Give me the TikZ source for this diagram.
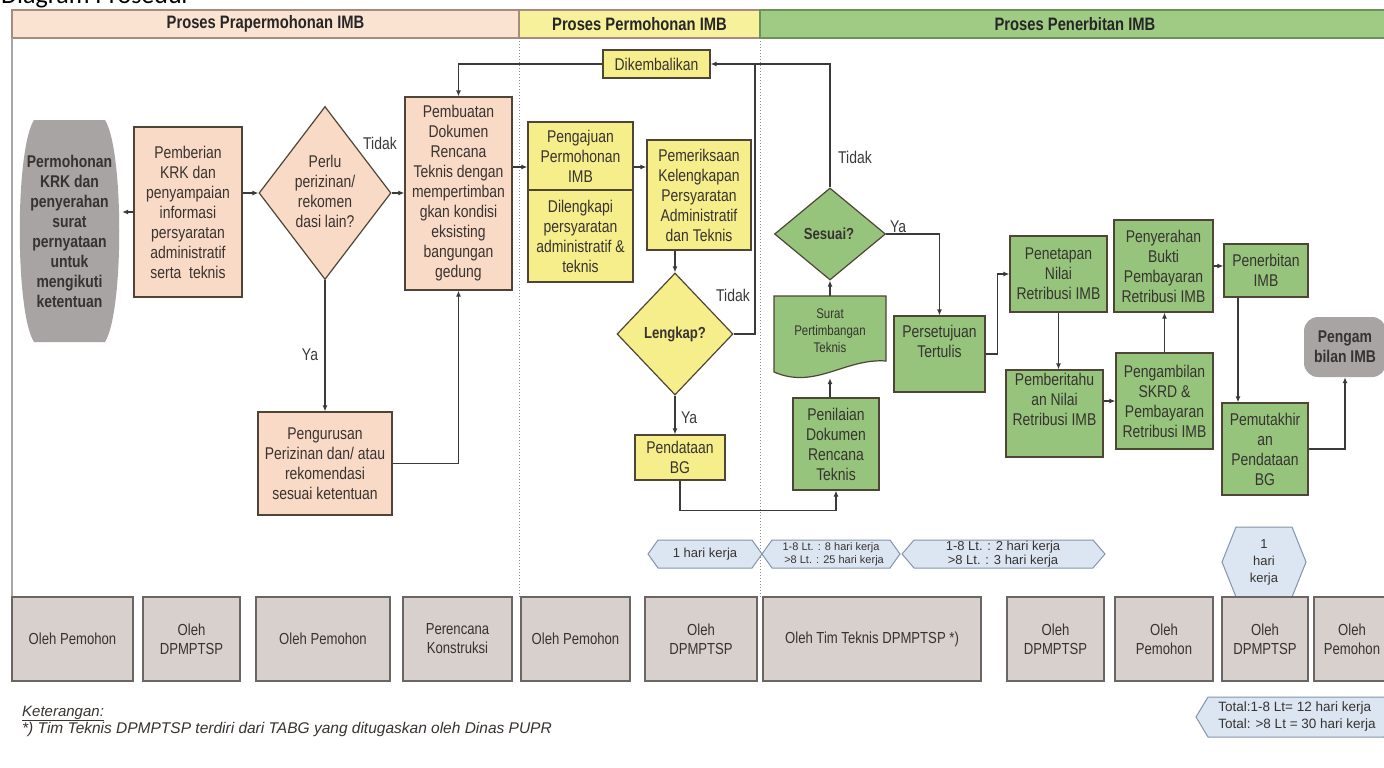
\documentclass[tikz,border=0pt]{standalone}
\usepackage{fontspec}
\setmainfont{Liberation Sans}[FakeStretch=0.82]
\newfontfamily\plainfont{Liberation Sans}
\newfontfamily\calib{Carlito}
\usetikzlibrary{shapes.geometric,arrows.meta,calc}
\definecolor{peachc}{HTML}{F9DAC6}
\definecolor{hpc}{HTML}{FBE3D2}
\definecolor{hpb}{HTML}{A58C7E}
\definecolor{yelc}{HTML}{F6EE8A}
\definecolor{hyc}{HTML}{F7F19C}
\definecolor{grnc}{HTML}{96C47C}
\definecolor{hgc}{HTML}{A0CB85}
\definecolor{hgb}{HTML}{6F9158}
\definecolor{termc}{HTML}{A9A4A4}
\definecolor{whoc}{HTML}{D8D0CD}
\definecolor{whob}{HTML}{6B6563}
\definecolor{hexc}{HTML}{DCE6F2}
\definecolor{hexb}{HTML}{8496A8}
\definecolor{bordc}{HTML}{4E4536}
\definecolor{linec}{HTML}{3A3A3A}
\definecolor{txtc}{HTML}{383330}
\newcommand{\fsz}[2]{\fontsize{#1}{#2}\selectfont}
\newcommand{\hexshape}[5]{\filldraw[hx] (#1,{(#3+#4)/2}) -- ({#1+#5},#3) -- ({#2-#5},#3) -- (#2,{(#3+#4)/2}) -- ({#2-#5},#4) -- ({#1+#5},#4) -- cycle;}
\tikzset{
 ln/.style={draw=linec, line width=1.4pt},
 ar/.style={ln, -{Latex[length=6pt,width=5pt]}},
 bx/.style={draw=bordc, line width=1.2pt, align=center, inner sep=0pt, text=txtc, font=\fsz{17}{20}},
 pch/.style={bx, fill=peachc},
 ylw/.style={bx, fill=yelc},
 grn/.style={bx, fill=grnc},
 dia/.style={diamond, draw=bordc, line width=1.2pt, inner sep=0pt},
 txt/.style={align=center, inner sep=0pt, text=txtc, font=\fsz{17}{20}},
 lab/.style={inner sep=0pt, text=linec, font=\fsz{17}{20}},
 who/.style={draw=whob, fill=whoc, line width=1.2pt, align=center, inner sep=0pt, text=txtc, font=\fsz{16}{19}},
 hx/.style={draw=hexb, fill=hexc, line width=1pt},
 hdr/.style={inner sep=0pt, line width=1.2pt, font=\bfseries\fsz{18}{20}, text=black!85},
}
\begin{document}
\begin{tikzpicture}[x=1pt,y=-1pt]
\useasboundingbox (0,0) rectangle (1384,768);
\fill[white] (0,0) rectangle (1384,768);
% title fragment
\node[anchor=base west, inner sep=0pt, font=\calib\fsz{26}{28}] (ttl) at (1,4) {Diagram Prosedur};
% headers
\node[hdr, draw=hpb, fill=hpc, minimum width=507pt, minimum height=28pt] (h1) at (265.5,24) {Proses Prapermohonan IMB};
\node[hdr, draw=hpb, fill=hyc, minimum width=241pt, minimum height=28pt] (h2) at (639.5,24) {Proses Permohonan IMB};
\node[hdr, draw=hgb, fill=hgc, minimum width=628pt, minimum height=28pt] (h3) at (1074,24) {};
\node[hdr] (h3t) at (1075,24) {Proses Penerbitan IMB};
% separators
\draw[black!35, line width=1.5pt] (12,38) -- (12,597);
\draw[black!45, dotted, line width=1pt] (519,38) -- (519,597);
\draw[black!45, dotted, line width=1pt] (760,38) -- (760,597);

% terminal start
\fill[termc] (34,120) -- (105,120) .. controls (124,150) and (124,312) .. (105,342) -- (34,342) .. controls (15,312) and (15,150) .. (34,120) -- cycle;
\node[txt, font=\bfseries\fsz{17}{20}, minimum width=105pt, minimum height=222pt] (term) at (69.5,231) {Permohonan\\KRK dan\\penyerahan\\surat\\pernyataan\\untuk\\mengikuti\\ketentuan};

\node[pch, minimum width=108pt, minimum height=170pt] (pemb) at (188,212) {Pemberian\\KRK dan\\penyampaian\\informasi\\persyaratan\\administratif\\serta\ \ teknis};
\node[dia, fill=peachc, minimum width=132pt, minimum height=173pt] (dia1) at (325,193) {};
\node[txt] (dia1t) at (325,191) {Perlu\\perizinan/\\rekomen\\dasi lain?};
\node[pch, minimum width=107pt, minimum height=193pt] (pbuat) at (458.5,193.5) {Pembuatan\\Dokumen\\Rencana\\Teknis dengan\\mempertimban\\gkan kondisi\\eksisting\\bangungan\\gedung};
\node[pch, minimum width=134pt, minimum height=103pt] (peng) at (325,463.5) {Pengurusan\\Perizinan dan/ atau\\rekomendasi\\sesuai ketentuan};

% permohonan
\node[ylw, minimum width=107pt, minimum height=28pt] (dikem) at (656.5,64) {Dikembalikan};
\node[ylw, minimum width=105pt, minimum height=160pt] (pgj) at (580.5,202) {};
\coordinate (dv) at (0,190);
\draw[bordc, line width=1.2pt] (pgj.west |- dv) -- (pgj.east |- dv);
\node[txt] (pgja) at (580.5,156) {Pengajuan\\Permohonan\\IMB};
\node[txt] (pgjb) at (580.5,236) {Dilengkapi\\persyaratan\\administratif \&\\teknis};
\node[ylw, minimum width=104pt, minimum height=110pt] (pemer) at (699,195) {Pemeriksaan\\Kelengkapan\\Persyaratan\\Administratif\\dan Teknis};
\node[dia, fill=yelc, minimum width=116pt, minimum height=122pt] (dia2) at (675,334) {};
\node[txt, font=\bfseries\fsz{16}{19}] (dia2t) at (675,334) {Lengkap?};
\node[ylw, minimum width=90pt, minimum height=45pt] (pbg) at (680,457.5) {Pendataan\\BG};

% penerbitan
\node[grn, minimum width=86pt, minimum height=92pt] (penil) at (836,444) {Penilaian\\Dokumen\\Rencana\\Teknis};
\filldraw[fill=grnc, draw=bordc, line width=1.2pt] (774,296) -- (886,296) -- (886,361) .. controls (845,358) and (815,390) .. (774,372) -- cycle;
\node[minimum width=112pt, minimum height=82pt, inner sep=0pt] (surat) at (830,337) {};
\node[txt, font=\fsz{14}{17}] (surtx) at (830,331) {Surat\\Pertimbangan\\Teknis};
\node[dia, fill=grnc, minimum width=111pt, minimum height=92pt] (dia3) at (830,234) {};
\node[txt, font=\bfseries\fsz{16}{19}] (dia3t) at (829,234) {Sesuai?};
\node[grn, minimum width=91pt, minimum height=76pt] (pers) at (939.5,354) {};
\node[txt] (perst) at (939.5,341) {Persetujuan\\Tertulis};
\node[grn, minimum width=97pt, minimum height=76pt] (penet) at (1058.5,274) {Penetapan\\Nilai\\Retribusi IMB};
\node[grn, minimum width=97pt, minimum height=87pt] (pembt) at (1054.5,413.5) {Pemberitahu\\an Nilai\\Retribusi IMB\\[8pt]};
\node[grn, minimum width=97pt, minimum height=96pt] (pengam) at (1164.5,401) {Pengambilan\\SKRD \&\\Pembayaran\\Retribusi IMB};
\node[grn, minimum width=99pt, minimum height=92pt] (penye) at (1163.5,266) {Penyerahan\\Bukti\\Pembayaran\\Retribusi IMB};
\node[grn, minimum width=84pt, minimum height=53pt] (pener) at (1266,270.5) {Penerbitan\\IMB};
\node[grn, minimum width=86pt, minimum height=92pt] (pemut) at (1265,449) {Pemutakhir\\an\\Pendataan\\BG};
\node[fill=termc, rounded corners=14pt, minimum width=82pt, minimum height=60pt, inner sep=0pt, align=center, text=txtc, font=\bfseries\fsz{17}{20}] (pimb) at (1345,347) {Pengam\\bilan IMB};

% connectors
\draw[ar] (pemb.west) -- (pemb.west -| term.east);
\draw[ar] (pemb.east |- dia1.west) -- (dia1.west);
\draw[ar] (dia1.east) -- (dia1.east -| pbuat.west);
\draw[ar] (dia1.south) -- (peng.north);
\draw[ar] (peng.east) -| (pbuat.south);
\coordinate (r1) at (0,167);
\draw[ar] (pbuat.east |- r1) -- (pgj.west |- r1);
\draw[ar] (pgj.east |- r1) -- (pemer.west |- r1);
\draw[ar] (pemer.south -| dia2.north) -- (dia2.north);
\draw[ar] (dia2.south) -- (dia2.south |- pbg.north);
\coordinate (j1) at (755,64);
\draw[ln] (dia2.east) -| (j1);
\draw[ar] (dia3.north) |- (dikem.east);
\draw[ar] (dikem.west) -| (pbuat.north);
\draw[ar] (pbg.south) -- ++(0,30) -| (penil.south);
\draw[ar] (penil.north -| surat.south) -- (surat.south);
\draw[ar] (surat.north) -- (dia3.south);
\draw[ar] (dia3.east) -| (pers.north);
\draw[ar] (pers.east) -- ++(12,0) |- (penet.west);
\draw[ar] (penet.south) -- (penet.south |- pembt.north);
\draw[ar] (pembt.east |- pengam.west) -- (pengam.west);
\draw[ar] (pengam.north) -- (pengam.north |- penye.south);
\draw[ar] (penye.east) -- (penye.east -| pener.west);
\draw[ar] ([xshift=-28pt]pener.south) -- ([xshift=-27pt]pemut.north);
\draw[ar] (pemut.east) -| (pimb.south);

% labels
\node[lab] (l1) at (380,143) {Tidak};
\node[lab] (l2) at (310,355) {Ya};
\node[lab] (l3) at (733,295) {Tidak};
\node[lab] (l4) at (689,418) {Ya};
\node[lab] (l5) at (855,157) {Tidak};
\node[lab] (l6) at (898,227) {Ya};

% duration hexagons
\hexshape{648}{762}{540}{568}{10}
\node[txt, font=\plainfont\fsz{13}{15}] (d1) at (705,554) {1 hari kerja};
\hexshape{762}{900}{540}{568}{10}
\node[txt, font=\plainfont\fsz{11}{13}] (d2) at (831,554) {1-8 Lt. : 8 hari kerja\\\ \ >8 Lt. : 25 hari kerja};
\hexshape{902}{1105}{540}{568}{12}
\node[txt, font=\plainfont\fsz{13}{14}] (d3) at (1003,554) {1-8 Lt. : 2 hari kerja\\>8 Lt. : 3 hari kerja};
\hexshape{1222}{1306}{527}{597}{14}
\node[txt, font=\plainfont\fsz{13}{17}] (d4) at (1264,562) {1\\hari\\kerja};

% actors
\foreach \a/\b/\t [count=\i] in {12/133/{Oleh Pemohon}, 143/240/{Oleh\\DPMPTSP}, 256/390/{Oleh Pemohon}, 403/512/{Perencana\\Konstruksi}, 521/630/{Oleh Pemohon}, 645/757/{Oleh\\DPMPTSP}, 763/981/{Oleh Tim Teknis DPMPTSP *)}, 1007/1104/{Oleh\\DPMPTSP}, 1115/1213/{Oleh\\Pemohon}, 1222/1308/{Oleh\\DPMPTSP}, 1314/1390/{Oleh\\Pemohon}}
  \node[who, minimum width={(\b-\a)*1pt}, minimum height=84pt] (w\i) at ({(\a+\b)/2},639) {\t};

% notes
\node[anchor=base west, inner sep=0pt, text=txtc, font=\plainfont\itshape\fsz{15}{17}] (ket) at (22,716) {\underline{Keterangan:}};
\node[anchor=base west, inner sep=0pt, text=txtc, font=\plainfont\itshape\fsz{15.5}{17}] (ketb) at (22,733) {*) Tim Teknis DPMPTSP terdiri dari TABG yang ditugaskan oleh Dinas PUPR};
\hexshape{1196}{1396}{697}{737}{12}
\node[txt, font=\plainfont\fsz{13.5}{17}, align=left] (tot) at (1297,717) {Total:1-8 Lt= 12 hari kerja\\Total: >8 Lt = 30 hari kerja};
\end{tikzpicture}
\end{document}
